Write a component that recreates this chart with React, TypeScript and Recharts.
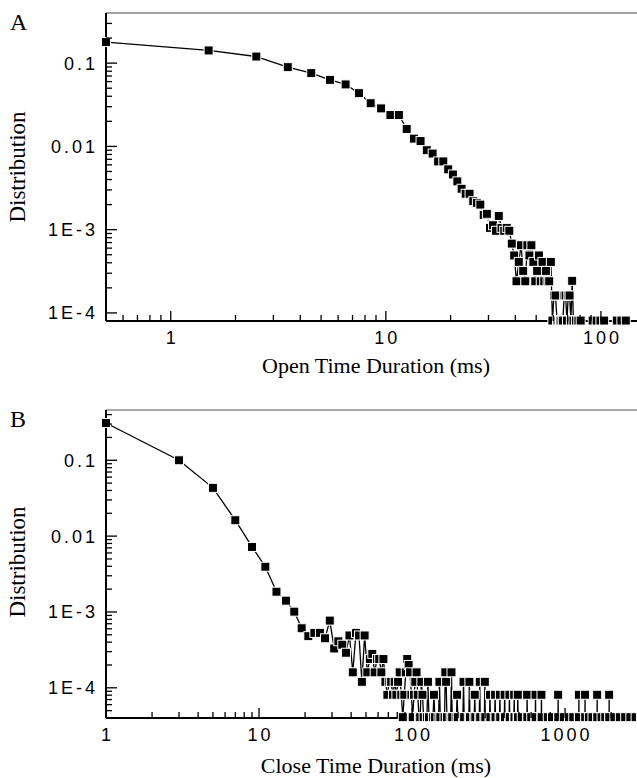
import { ComposedChart, Line, XAxis, YAxis, ReferenceLine } from "recharts";

// Panel A: open time histogram (1 ms bins)
const openTime = [
  0.5, 1.5, 2.5, 3.5, 4.5, 5.5, 6.5, 7.5, 8.5, 9.5, 10.5, 11.5, 12.5, 13.5,
  14.5, 15.5, 16.5, 17.5, 18.5, 19.5, 20.5, 21.5, 22.5, 23.5, 24.5, 25.5,
  26.5, 27.5, 28.5, 29.5, 30.5, 31.5, 32.5, 33.5, 34.5, 35.5, 36.5, 37.5,
  38.5, 39.5, 40.5, 41.5, 42.5, 43.5, 44.5, 45.5, 46.5, 47.5, 48.5, 49.5,
  50.5, 51.5, 52.5, 53.5, 54.5, 55.5, 56.5, 57.5, 58.5, 59.5, 60.5, 61.5,
  62.5, 63.5, 64.5, 65.5, 66.5, 67.5, 68.5, 69.5, 70.5, 71.5, 72.5, 73.5,
  74.5, 76.5, 78.5, 80.5, 91.5, 95.5, 99.5, 103.5, 118.5, 124.5, 130.5,
];
const openDist = [
  0.179, 0.142, 0.12, 0.0895, 0.0759, 0.063, 0.0555, 0.0436, 0.033, 0.0286,
  0.0238, 0.0238, 0.0162, 0.0124, 0.0116, 0.009, 0.0082, 0.0066, 0.0066,
  0.0053, 0.0046, 0.0038, 0.0031, 0.0027, 0.0027, 0.0022, 0.0021, 0.002,
  0.0015, 0.00155, 0.00105, 0.00113, 0.00097, 0.00146, 0.00105, 0.00097,
  0.00105, 0.00097, 0.00068, 0.00049, 0.00024, 0.00041, 0.00065, 0.00032,
  0.00024, 0.00065, 0.00049, 0.00065, 0.00041, 0.00024, 0.00032, 0.00049,
  0.00024, 0.00041, 0.00024, 0.00032, 0.00024, 0.00024, 0.00041, 0.000081,
  0.000162, 0.000162, 0.000081, 0.000081, 0.000081, 0.000081, 0.000081,
  0.000162, 0.000162, 0.000081, 0.000162, 0.000162, 0.000081, 0.000243,
  0.000081, 0.000081, 0.000081, 0.000081, 0.000081, 0.000081, 0.000081,
  0.000081, 0.000081, 0.000081, 0.000081,
];

// Panel B: close time histogram (2 ms bins)
const closeTime = [
  1, 3, 5, 7, 9, 11, 13, 15, 17, 19, 21, 23, 25, 27, 29, 31, 33, 35, 37, 39,
  41, 43, 45, 47, 49, 51, 53, 55, 57, 59, 61, 63, 65, 67, 69, 71, 73, 75, 77,
  79, 81, 83, 85, 87, 89, 91, 93, 95, 97, 99, 101, 103, 105, 107, 109, 111,
  113, 115, 117, 119, 125, 127, 129, 137, 139, 141, 149, 151, 153, 163, 165,
  167, 169, 179, 181, 183, 195, 197, 199, 215, 217, 219, 235, 237, 239, 255,
  257, 259, 275, 277, 279, 297, 299, 301, 321, 323, 325, 347, 349, 351, 373,
  375, 377, 401, 403, 405, 431, 433, 435, 463, 465, 467, 489, 491, 493, 521,
  563, 565, 567, 601, 639, 641, 643, 699, 701, 703, 771, 821, 899, 901, 903,
  981, 1061, 1131, 1229, 1231, 1233, 1349, 1351, 1353, 1431, 1511, 1619,
  1621, 1623, 1731, 1831, 1939, 1941, 1943, 2101, 2281, 2471, 2671, 2891,
  3131,
];
const closeDist = [
  0.31, 0.1, 0.0433, 0.0162, 0.0072, 0.00395, 0.00185, 0.00141, 0.00101,
  0.00061, 0.00048, 0.00053, 0.00053, 0.00045, 0.00077, 0.00033, 0.00041,
  0.00037, 0.00029, 0.00049, 0.00016, 0.00053, 0.00049, 0.00012, 0.00049,
  0.00016, 0.00024, 0.00028, 0.00016, 0.00024, 0.00024, 0.00016, 0.00024,
  0.00012, 0.000081, 0.00012, 0.00012, 0.000081, 0.00012, 0.000081, 0.00012,
  0.00016, 0.000081, 0.000041, 0.000081, 0.00016, 0.00024, 0.0002, 0.00016,
  0.000081, 0.000041, 0.000081, 0.00012, 0.00016, 0.000081, 0.000041,
  0.000041, 0.00012, 0.000081, 0.000041, 0.000041, 0.00012, 0.000041,
  0.000041, 0.000081, 0.000041, 0.000041, 0.00012, 0.000041, 0.000041,
  0.00016, 0.00012, 0.000041, 0.000041, 0.00016, 0.000041, 0.000041,
  0.000081, 0.000041, 0.000041, 0.00012, 0.000041, 0.000041, 0.00012,
  0.000041, 0.000041, 0.000081, 0.000041, 0.000041, 0.00012, 0.000041,
  0.000041, 0.00012, 0.000041, 0.000041, 0.000081, 0.000041, 0.000041,
  0.000081, 0.000041, 0.000041, 0.000081, 0.000041, 0.000041, 0.000081,
  0.000041, 0.000041, 0.000081, 0.000041, 0.000041, 0.000081, 0.000041,
  0.000041, 0.000081, 0.000041, 0.000041, 0.000041, 0.000081, 0.000041,
  0.000041, 0.000041, 0.000081, 0.000041, 0.000041, 0.000081, 0.000041,
  0.000041, 0.000041, 0.000041, 0.000081, 0.000041, 0.000041, 0.000041,
  0.000041, 0.000041, 0.000081, 0.000041, 0.000041, 0.000081, 0.000041,
  0.000041, 0.000041, 0.000041, 0.000081, 0.000041, 0.000041, 0.000041,
  0.000041, 0.000081, 0.000041, 0.000041, 0.000041, 0.000041, 0.000041,
  0.000041, 0.000041,
];

// ticks
const openXTicks = [
  0.6, 0.7, 0.8, 0.9, 1, 2, 3, 4, 5, 6, 7, 8, 9, 10, 20, 30, 40, 50, 60, 70,
  80, 90, 100,
];
const openXMajor = [1, 10, 100];
const openXLabels = ["1", "10", "100"];

const closeXTicks = [
  1, 2, 3, 4, 5, 6, 7, 8, 9, 10, 20, 30, 40, 50, 60, 70, 80, 90, 100, 200, 300,
  400, 500, 600, 700, 800, 900, 1000, 2000, 3000,
];
const closeXMajor = [1, 10, 100, 1000];
const closeXLabels = ["1", "10", "100", "1000"];

const openYTicks = [
  0.0001, 0.0002, 0.0003, 0.0004, 0.0005, 0.0006, 0.0007, 0.0008, 0.0009,
  0.001, 0.002, 0.003, 0.004, 0.005, 0.006, 0.007, 0.008, 0.009, 0.01, 0.02,
  0.03, 0.04, 0.05, 0.06, 0.07, 0.08, 0.09, 0.1, 0.2, 0.3,
];
const closeYTicks = [
  0.00005, 0.00006, 0.00007, 0.00008, 0.00009, ...openYTicks, 0.4,
];
const yMajor = [0.1, 0.01, 0.001, 0.0001];
const yLabels = ["0.1", "0.01", "1E-3", "1E-4"];

const tickFont = {
  fontFamily: "'Liberation Sans', Arial, sans-serif",
  fontSize: 18,
  letterSpacing: 3,
  fill: "#000",
};
const titleFont = {
  fontFamily: "'Liberation Serif', 'Times New Roman', serif",
  fill: "#000",
};

const square = (props: any) => {
  const { cx, cy, index } = props;
  if (cx == null || cy == null) return <g key={`d-${index}`} />;
  return (
    <rect
      key={`d-${index}`}
      x={cx - 4.5}
      y={cy - 4.5}
      width={9}
      height={9}
      fill="#000"
      stroke="#fff"
      strokeWidth={1}
    />
  );
};

const xTick = (majors: number[], labels: string[]) => (props: any) => {
  const { x, y, payload } = props;
  const i = majors.indexOf(payload.value);
  const major = i >= 0;
  return (
    <g>
      <line x1={x} x2={x} y1={y} y2={y - (major ? 10 : 6)} stroke="#000" strokeWidth={1.3} />
      {major && (
        <text x={x + 1.5} y={y + 23} textAnchor="middle" {...tickFont}>
          {labels[i]}
        </text>
      )}
    </g>
  );
};

const yTick = (props: any) => {
  const { x, y, payload } = props;
  const i = yMajor.indexOf(payload.value);
  const major = i >= 0;
  return (
    <g>
      <line x1={x} x2={x + (major ? 11 : 6)} y1={y} y2={y} stroke="#000" strokeWidth={1.3} />
      {major && (
        <text x={x - 8} y={y + 6.5} textAnchor="end" {...tickFont}>
          {yLabels[i]}
        </text>
      )}
    </g>
  );
};

const yTitle = (letter: string, letterY: number, cy: number) => () => (
  <g>
    <text x={10} y={letterY} fontSize={24} {...titleFont}>
      {letter}
    </text>
    <text
      x={17}
      y={cy}
      transform={`rotate(-90 17 ${cy})`}
      textAnchor="middle"
      dominantBaseline="central"
      fontSize={23}
      {...titleFont}
    >
      Distribution
    </text>
  </g>
);

const xTitle = (text: string, y: number) => () => (
  <text x={376} y={y} textAnchor="middle" fontSize={22} {...titleFont}>
    {text}
  </text>
);

const openData = openTime.map((t, i) => ({ t, d: openDist[i] }));
const closeData = closeTime.map((t, i) => ({ t, d: closeDist[i] }));

export default function App() {
  return (
    <div
      style={{
        position: "absolute",
        left: 0,
        top: 0,
        width: 637,
        height: 778,
        overflow: "hidden",
        background: "#fff",
      }}
    >
      <div style={{ position: "absolute", left: 0, top: 0 }}>
        <ComposedChart
          width={660}
          height={390}
          data={openData}
          margin={{ top: 13, right: 14, bottom: 9, left: 0 }}
        >
          <XAxis
            dataKey="t"
            type="number"
            scale="log"
            domain={[0.5, 162]}
            ticks={openXTicks}
            interval={0}
            tickSize={0}
            tickMargin={0}
            tickLine={false}
            axisLine={{ stroke: "#000", strokeWidth: 2 }}
            height={60}
            tick={xTick(openXMajor, openXLabels)}
            label={xTitle("Open Time Duration (ms)", 373)}
          />
          <YAxis
            type="number"
            scale="log"
            domain={[0.00008, 0.4]}
            ticks={openYTicks}
            interval={0}
            width={106}
            tickSize={0}
            tickMargin={0}
            tickLine={false}
            axisLine={{ stroke: "#000", strokeWidth: 2 }}
            tick={yTick}
            label={yTitle("A", 30, 167)}
          />
          <ReferenceLine y={0.4} stroke="#444" strokeWidth={1.2} />
          <Line
            dataKey="d"
            type="linear"
            stroke="#000"
            strokeWidth={1.3}
            dot={square}
            activeDot={false}
            isAnimationActive={false}
          />
        </ComposedChart>
      </div>
      <div style={{ position: "absolute", left: 0, top: 390 }}>
        <ComposedChart
          width={660}
          height={388}
          data={closeData}
          margin={{ top: 20, right: 14, bottom: 0, left: 0 }}
        >
          <XAxis
            dataKey="t"
            type="number"
            scale="log"
            domain={[1, 3380]}
            ticks={closeXTicks}
            interval={0}
            tickSize={0}
            tickMargin={0}
            tickLine={false}
            axisLine={{ stroke: "#000", strokeWidth: 2 }}
            height={60}
            tick={xTick(closeXMajor, closeXLabels)}
            label={xTitle("Close Time Duration (ms)", 383)}
          />
          <YAxis
            type="number"
            scale="log"
            domain={[0.00004, 0.46]}
            ticks={closeYTicks}
            interval={0}
            width={106}
            tickSize={0}
            tickMargin={0}
            tickLine={false}
            axisLine={{ stroke: "#000", strokeWidth: 2 }}
            tick={yTick}
            label={yTitle("B", 37, 172)}
          />
          <ReferenceLine y={0.46} stroke="#555" strokeWidth={1.2} />
          <Line
            dataKey="d"
            type="linear"
            stroke="#000"
            strokeWidth={1.3}
            dot={square}
            activeDot={false}
            isAnimationActive={false}
          />
        </ComposedChart>
      </div>
    </div>
  );
}
